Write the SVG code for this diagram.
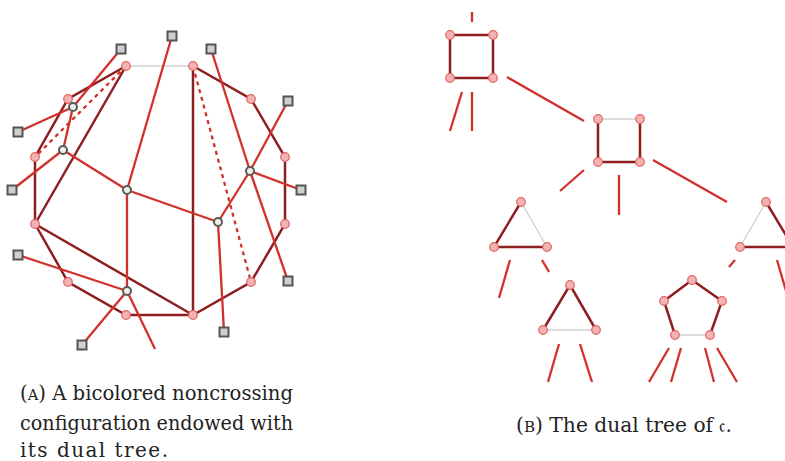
<svg xmlns="http://www.w3.org/2000/svg" width="785" height="461" viewBox="0 0 785 461">
<style>
.dk{stroke:#8e1f1f;stroke-width:2.5;fill:none;stroke-linecap:round}
.gr{stroke:#d0d0d0;stroke-width:1.3;fill:none}
.rd{stroke:#d2302c;stroke-width:2.3;fill:none}
.dt{stroke:#d2302c;stroke-width:2.3;fill:none;stroke-dasharray:4 4}
.pv{fill:#f4b3b3;stroke:#e06464;stroke-width:1.2}
.wv{fill:#eeeeea;stroke:#5a5a55;stroke-width:2}
.sq{fill:#cfcfcf;stroke:#555;stroke-width:2}
.cap{font-family:"DejaVu Serif","Liberation Serif",serif;font-size:20px;fill:#222}
</style>
<rect width="785" height="461" fill="#fff"/>
<g id="connectors">
<line class="gr" x1="126" y1="66" x2="193" y2="66"/>
<polyline class="dk" points="193,66 251,99 285,157 285,224 251,282 193,315 126,315 68,282 35,224 35,157 68,99 126,66"/>
<line class="dk" x1="126" y1="66" x2="35" y2="224"/>
<line class="dk" x1="193" y1="66" x2="193" y2="315"/>
<line class="dk" x1="35" y1="224" x2="193" y2="315"/>
<line class="dt" x1="126" y1="66" x2="35" y2="157"/>
<line class="dt" x1="193" y1="66" x2="251" y2="282"/>
<line class="rd" x1="121" y1="49" x2="73" y2="107"/>
<line class="rd" x1="18" y1="132" x2="73" y2="107"/>
<line class="rd" x1="73" y1="107" x2="63" y2="150"/>
<line class="rd" x1="63" y1="150" x2="12" y2="190"/>
<line class="rd" x1="63" y1="150" x2="127" y2="190"/>
<line class="rd" x1="127" y1="190" x2="172" y2="36"/>
<line class="rd" x1="127" y1="190" x2="127" y2="291"/>
<line class="rd" x1="127" y1="190" x2="218" y2="222"/>
<line class="rd" x1="218" y1="222" x2="250" y2="171"/>
<line class="rd" x1="218" y1="222" x2="224" y2="332"/>
<line class="rd" x1="250" y1="171" x2="288" y2="101"/>
<line class="rd" x1="250" y1="171" x2="301" y2="190"/>
<line class="rd" x1="250" y1="171" x2="211" y2="49"/>
<line class="rd" x1="250" y1="171" x2="288" y2="281"/>
<line class="rd" x1="127" y1="291" x2="18" y2="255"/>
<line class="rd" x1="127" y1="291" x2="82" y2="345"/>
<line class="rd" x1="127" y1="291" x2="155" y2="349"/>
<line class="rd" x1="472" y1="12" x2="472" y2="22"/>
<line class="rd" x1="462" y1="92" x2="450" y2="131"/>
<line class="rd" x1="472" y1="92" x2="472" y2="131"/>
<line class="rd" x1="507" y1="77" x2="584" y2="121"/>
<line class="rd" x1="584" y1="170" x2="560" y2="191"/>
<line class="rd" x1="619" y1="175" x2="619" y2="215"/>
<line class="rd" x1="653" y1="160" x2="727" y2="202"/>
<line class="rd" x1="510" y1="260" x2="499" y2="298"/>
<line class="rd" x1="542" y1="260" x2="549" y2="272"/>
<line class="rd" x1="559" y1="344" x2="548" y2="382"/>
<line class="rd" x1="580" y1="344" x2="592" y2="382"/>
<line class="rd" x1="669" y1="348" x2="649" y2="382"/>
<line class="rd" x1="681" y1="348" x2="671" y2="382"/>
<line class="rd" x1="705" y1="348" x2="714" y2="382"/>
<line class="rd" x1="717" y1="348" x2="737" y2="382"/>
<line class="rd" x1="735" y1="260" x2="729" y2="267"/>
<line class="rd" x1="777" y1="260" x2="786" y2="291"/>
</g>
<g id="config-vertices">
<circle class="pv" cx="126" cy="66" r="4.3"/>
<circle class="pv" cx="193" cy="66" r="4.3"/>
<circle class="pv" cx="251" cy="99" r="4.3"/>
<circle class="pv" cx="285" cy="157" r="4.3"/>
<circle class="pv" cx="285" cy="224" r="4.3"/>
<circle class="pv" cx="251" cy="282" r="4.3"/>
<circle class="pv" cx="193" cy="315" r="4.3"/>
<circle class="pv" cx="126" cy="315" r="4.3"/>
<circle class="pv" cx="68" cy="282" r="4.3"/>
<circle class="pv" cx="35" cy="224" r="4.3"/>
<circle class="pv" cx="35" cy="157" r="4.3"/>
<circle class="pv" cx="68" cy="99" r="4.3"/>
</g>
<g id="dual-nodes">
<circle class="wv" cx="73" cy="107" r="4"/>
<circle class="wv" cx="63" cy="150" r="4"/>
<circle class="wv" cx="127" cy="190" r="4"/>
<circle class="wv" cx="250" cy="171" r="4"/>
<circle class="wv" cx="218" cy="222" r="4"/>
<circle class="wv" cx="127" cy="291" r="4"/>
</g>
<g id="leaves">
<rect class="sq" x="116.5" y="44.5" width="9" height="9"/>
<rect class="sq" x="167.5" y="31.5" width="9" height="9"/>
<rect class="sq" x="206.5" y="44.5" width="9" height="9"/>
<rect class="sq" x="283.5" y="96.5" width="9" height="9"/>
<rect class="sq" x="296.5" y="185.5" width="9" height="9"/>
<rect class="sq" x="283.5" y="276.5" width="9" height="9"/>
<rect class="sq" x="219.5" y="327.5" width="9" height="9"/>
<rect class="sq" x="77.5" y="340.5" width="9" height="9"/>
<rect class="sq" x="13.5" y="250.5" width="9" height="9"/>
<rect class="sq" x="7.5" y="185.5" width="9" height="9"/>
<rect class="sq" x="13.5" y="127.5" width="9" height="9"/>
</g>
<g id="square1">
<polygon class="dk" points="450,35 493,35 493,78 450,78"/>
<circle class="pv" cx="450" cy="35" r="4.3"/><circle class="pv" cx="493" cy="35" r="4.3"/>
<circle class="pv" cx="450" cy="78" r="4.3"/><circle class="pv" cx="493" cy="78" r="4.3"/>
</g>
<g id="square2">
<line class="gr" x1="598" y1="119" x2="640" y2="119"/>
<polyline class="dk" points="598,119 598,162 640,162 640,119"/>
<circle class="pv" cx="598" cy="119" r="4.3"/><circle class="pv" cx="640" cy="119" r="4.3"/>
<circle class="pv" cx="598" cy="162" r="4.3"/><circle class="pv" cx="640" cy="162" r="4.3"/>
</g>
<g id="triangleA">
<line class="gr" x1="521" y1="202" x2="547" y2="247"/>
<polyline class="dk" points="521,202 494,247 547,247"/>
<circle class="pv" cx="521" cy="202" r="4.3"/><circle class="pv" cx="494" cy="247" r="4.3"/><circle class="pv" cx="547" cy="247" r="4.3"/>
</g>
<g id="triangleB">
<line class="gr" x1="543" y1="330" x2="596" y2="330"/>
<polyline class="dk" points="543,330 570,285 596,330"/>
<circle class="pv" cx="570" cy="285" r="4.3"/><circle class="pv" cx="543" cy="330" r="4.3"/><circle class="pv" cx="596" cy="330" r="4.3"/>
</g>
<g id="pentagon">
<line class="gr" x1="675" y1="335" x2="710" y2="335"/>
<polyline class="dk" points="675,335 664,301 692,280 722,301 710,335"/>
<circle class="pv" cx="692" cy="280" r="4.3"/><circle class="pv" cx="664" cy="301" r="4.3"/><circle class="pv" cx="722" cy="301" r="4.3"/>
<circle class="pv" cx="675" cy="335" r="4.3"/><circle class="pv" cx="710" cy="335" r="4.3"/>
</g>
<g id="triangleC">
<line class="gr" x1="766" y1="202" x2="740" y2="247"/>
<polyline class="dk" points="766,202 793,247 740,247"/>
<circle class="pv" cx="766" cy="202" r="4.3"/><circle class="pv" cx="740" cy="247" r="4.3"/>
</g>
<g id="captions">
<text class="cap" x="20" y="400" textLength="273" lengthAdjust="spacingAndGlyphs">(<tspan font-size="15">A</tspan>) A bicolored noncrossing</text>
<text class="cap" x="20" y="430" textLength="273" lengthAdjust="spacingAndGlyphs">configuration endowed with</text>
<text class="cap" x="20" y="457" textLength="148" lengthAdjust="spacing">its dual tree.</text>
<text class="cap" x="516" y="432" textLength="216" lengthAdjust="spacingAndGlyphs">(<tspan font-size="15">B</tspan>) The dual tree of 𝔠.</text>
</g>
</svg>
